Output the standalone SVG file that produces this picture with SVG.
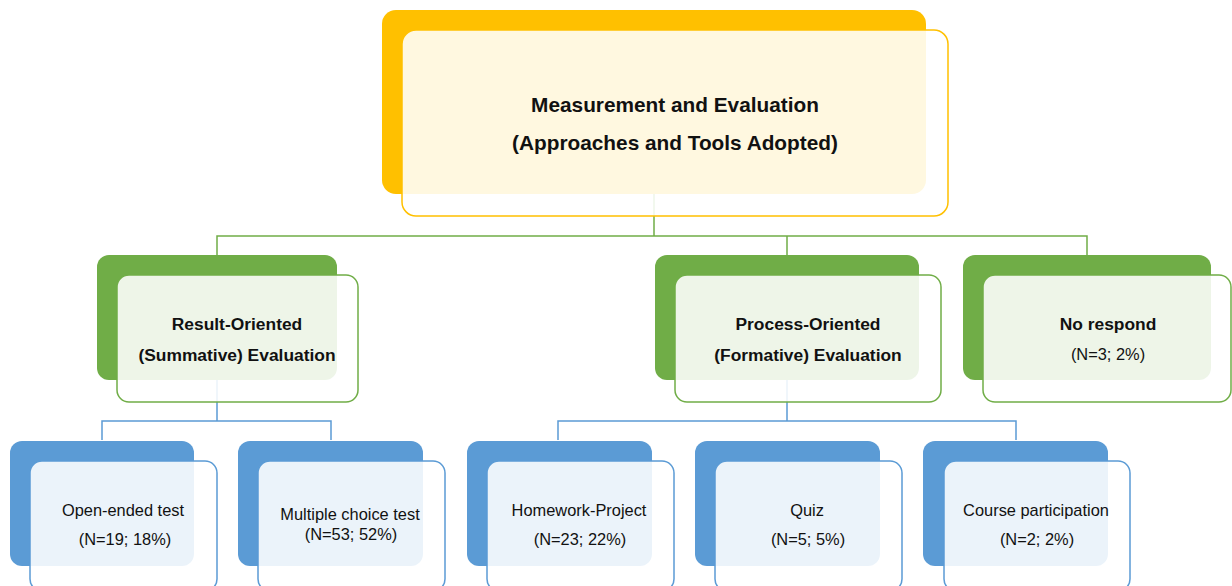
<svg xmlns="http://www.w3.org/2000/svg" width="1232" height="586" viewBox="0 0 1232 586">
  <style>
    .back-y { fill: #FFC000; }
    .back-g { fill: #70AD47; }
    .back-b { fill: #5B9BD5; }
    .front { fill: #FFFFFF; fill-opacity: 0.88; stroke-width: 1.5; }
    .front-y { stroke: #FFC000; }
    .front-g { stroke: #70AD47; }
    .front-b { stroke: #5B9BD5; }
    .link-g { fill: none; stroke: #70AD47; stroke-width: 1.5; }
    .link-b { fill: none; stroke: #5B9BD5; stroke-width: 1.5; }
    text { font-family: "Liberation Sans", Arial, sans-serif; fill: #111; text-anchor: middle; }
    .title { font-size: 20.8px; font-weight: bold; }
    .head { font-size: 17.4px; font-weight: bold; }
    .leaf { font-size: 16.4px; }
  </style>

  <!-- connectors (drawn first so the translucent cards sit over them) -->
  <g id="connectors">
    <path class="link-g" d="M654,194 V236 M217,255 V236 H1087 V255 M787,236 V255"/>
    <path class="link-b" d="M217,380 V421 M102,440 V421 H331 V440"/>
    <path class="link-b" d="M787,380 V421 M558,440 V421 H1016 V440"/>
  </g>

  <g id="root">
    <rect class="back-y" x="382" y="10" width="544" height="184" rx="14"/>
    <rect class="front front-y" x="402" y="30" width="546" height="186" rx="14"/>
    <text class="title" x="675" y="112">Measurement and Evaluation</text>
    <text class="title" x="675" y="150">(Approaches and Tools Adopted)</text>
  </g>

  <g id="summative">
    <rect class="back-g" x="97" y="255" width="240" height="125" rx="12"/>
    <rect class="front front-g" x="117" y="275" width="241" height="127" rx="12"/>
    <text class="head" x="237" y="330">Result-Oriented</text>
    <text class="head" x="237" y="361">(Summative) Evaluation</text>
  </g>

  <g id="formative">
    <rect class="back-g" x="655" y="255" width="264" height="125" rx="12"/>
    <rect class="front front-g" x="675" y="275" width="266" height="127" rx="12"/>
    <text class="head" x="808" y="330">Process-Oriented</text>
    <text class="head" x="808" y="361">(Formative) Evaluation</text>
  </g>

  <g id="no-respond">
    <rect class="back-g" x="963" y="255" width="248" height="125" rx="12"/>
    <rect class="front front-g" x="983" y="275" width="248" height="127" rx="12"/>
    <text class="head" x="1108" y="330">No respond</text>
    <text class="leaf" x="1108" y="360">(N=3; 2%)</text>
  </g>

  <g id="open-ended">
    <rect class="back-b" x="10" y="441" width="184" height="125" rx="12"/>
    <rect class="front front-b" x="30" y="461" width="187" height="130" rx="12"/>
    <text class="leaf" x="123" y="516">Open-ended test</text>
    <text class="leaf" x="125" y="545">(N=19; 18%)</text>
  </g>

  <g id="multiple-choice">
    <rect class="back-b" x="238" y="441" width="185" height="125" rx="12"/>
    <rect class="front front-b" x="258" y="461" width="187" height="130" rx="12"/>
    <text class="leaf" x="350" y="520">Multiple choice test</text>
    <text class="leaf" x="351" y="540">(N=53; 52%)</text>
  </g>

  <g id="homework">
    <rect class="back-b" x="467" y="441" width="185" height="125" rx="12"/>
    <rect class="front front-b" x="487" y="461" width="187" height="130" rx="12"/>
    <text class="leaf" x="579" y="516">Homework-Project</text>
    <text class="leaf" x="580" y="545">(N=23; 22%)</text>
  </g>

  <g id="quiz">
    <rect class="back-b" x="695" y="441" width="185" height="125" rx="12"/>
    <rect class="front front-b" x="715" y="461" width="187" height="130" rx="12"/>
    <text class="leaf" x="807" y="516">Quiz</text>
    <text class="leaf" x="808" y="545">(N=5; 5%)</text>
  </g>

  <g id="course-participation">
    <rect class="back-b" x="923" y="441" width="185" height="125" rx="12"/>
    <rect class="front front-b" x="944" y="461" width="186" height="130" rx="12"/>
    <text class="leaf" x="1036" y="516">Course participation</text>
    <text class="leaf" x="1037" y="545">(N=2; 2%)</text>
  </g>
</svg>
